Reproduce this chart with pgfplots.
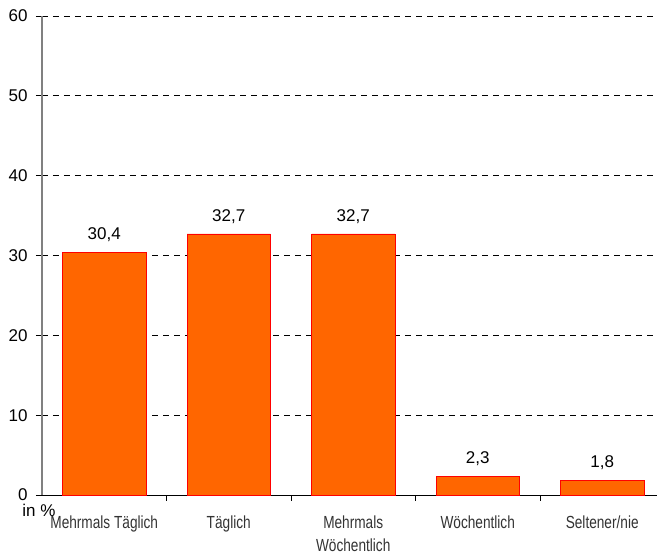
\documentclass[border=0pt]{standalone}
\usepackage{pgfplots}
\pgfplotsset{compat=1.18}
\usepackage{fontspec}
\setmainfont{Liberation Sans}
\newfontfamily\narrowfont[FakeStretch=0.78]{Liberation Sans}
\definecolor{barorange}{HTML}{FF6600}
\definecolor{labelgray}{HTML}{333333}
\begin{document}
\begin{tikzpicture}
\begin{axis}[
  scale only axis,
  width=615bp, height=479bp,
  xmin=-0.5, xmax=4.44,
  ymin=0, ymax=60,
  ytick={0,10,...,60},
  xtick={0,1,2,3,4},
  xticklabels={Mehrmals Täglich, Täglich, Mehrmals\\Wöchentlich, Wöchentlich, Seltener/nie},
  minor xtick={0.5,1.5,2.5,3.5},
  axis x line*=bottom,
  axis y line*=left,
  tick align=outside,
  x axis line style={black, line width=0.8bp},
  y axis line style={gray, line width=1.5bp},
  major x tick style={draw=none},
  minor x tick style={black, line width=0.8bp},
  minor tick length=6bp,
  major y tick style={black, line width=0.8bp},
  major tick length=6bp,
  ymajorgrids,
  grid style={black, dash pattern=on 6bp off 5bp, line width=0.7bp},
  /pgf/number format/assume math mode=true,
  yticklabel style={font=\fontsize{17bp}{20bp}\selectfont, black, xshift=-5bp},
  xticklabel style={font=\narrowfont\fontsize{17.5bp}{23bp}\selectfont, text=labelgray, align=center, yshift=-11bp},
  nodes near coords,
  point meta=explicit symbolic,
  every node near coord/.append style={font=\fontsize{17bp}{20bp}\selectfont, black, yshift=7bp},
  clip=false,
]
\addplot[ybar, bar width=0.67, fill=barorange, draw=red, line width=0.6bp]
  coordinates {(0,30.4) [30,4] (1,32.7) [32,7] (2,32.7) [32,7] (3,2.3) [2,3] (4,1.8) [1,8]};
\node[anchor=north, font=\fontsize{17bp}{20bp}\selectfont, inner sep=0pt] at ([xshift=-3bp, yshift=-9bp]rel axis cs:0,0) {in \%};
\end{axis}
\pgfresetboundingbox
\path ([xshift=-42bp, yshift=16bp]current axis.north west) rectangle ([yshift=-64bp]current axis.south east);
\end{tikzpicture}
\end{document}
